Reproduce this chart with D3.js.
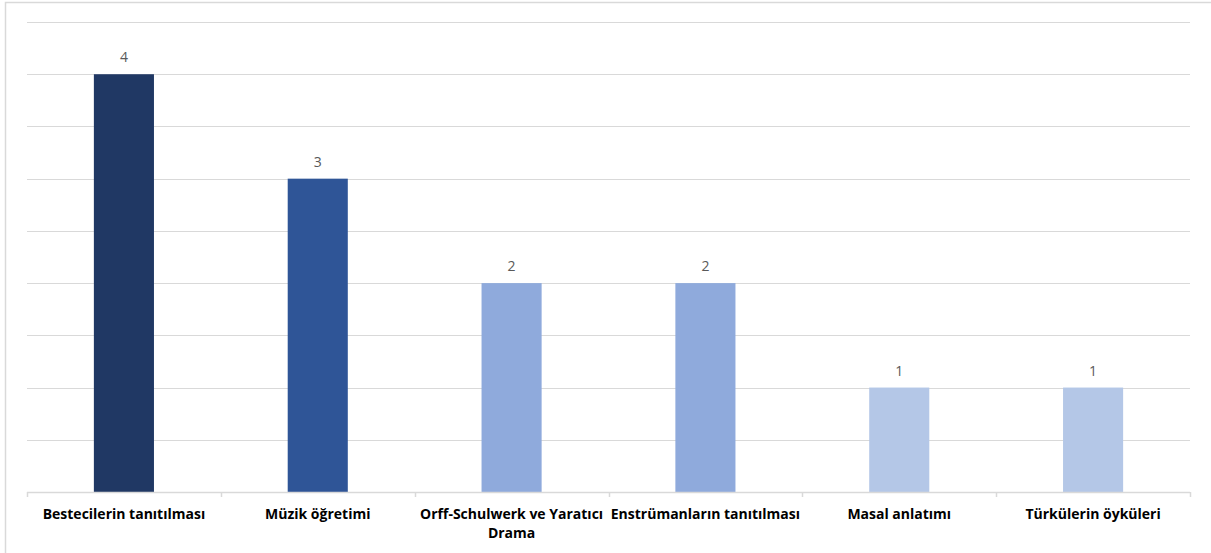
<!DOCTYPE html>
<html>
<head>
<meta charset="utf-8">
<script src="https://cdn.jsdelivr.net/npm/d3@7"></script>
<style>
  html, body { margin: 0; padding: 0; background: #fff; }
  svg { display: block; }
</style>
</head>
<body>
<svg id="chart" width="1211" height="553"></svg>
<script>
// Activity categories and how many times each was mentioned
const categories = [
  "Bestecilerin tanıtılması",
  "Müzik öğretimi",
  "Orff-Schulwerk ve Yaratıcı Drama",
  "Enstrümanların tanıtılması",
  "Masal anlatımı",
  "Türkülerin öyküleri"
];
const counts = [4, 3, 2, 2, 1, 1];
const barColors = ["#203864", "#2f5597", "#8faadc", "#8faadc", "#b4c7e7", "#b4c7e7"];
const gridValues = [0.5, 1, 1.5, 2, 2.5, 3, 3.5, 4, 4.5];

const svg = d3.select("#chart");
const plot = { left: 27, right: 1190, top: 22, bottom: 492 };

// outer frame
svg.append("rect")
  .attr("x", 5.5).attr("y", 2.5)
  .attr("width", 1230).attr("height", 570)
  .attr("fill", "none").attr("stroke", "#d9d9d9").attr("stroke-width", 1.5);

const x = d3.scaleBand()
  .domain(categories)
  .range([plot.left, plot.right])
  .paddingInner(0.69)
  .paddingOuter(0.345);

const xCat = d3.scaleBand()
  .domain(categories)
  .range([plot.left, plot.right]);

const y = d3.scaleLinear().domain([0, 4.5]).range([plot.bottom, plot.top]);

// horizontal gridlines
svg.append("g")
  .selectAll("line")
  .data(gridValues)
  .join("line")
  .attr("x1", plot.left).attr("x2", plot.right)
  .attr("y1", d => Math.round(y(d)) + 0.5)
  .attr("y2", d => Math.round(y(d)) + 0.5)
  .attr("stroke", "#d9d9d9").attr("stroke-width", 1);

// bars
svg.append("g")
  .selectAll("rect")
  .data(categories)
  .join("rect")
  .attr("x", d => x(d))
  .attr("width", x.bandwidth())
  .attr("y", (d, i) => y(counts[i]))
  .attr("height", (d, i) => y(0) - y(counts[i]))
  .attr("fill", (d, i) => barColors[i]);

// value labels
svg.append("g")
  .selectAll("text")
  .data(categories)
  .join("text")
  .attr("x", d => x(d) + x.bandwidth() / 2)
  .attr("y", (d, i) => y(counts[i]) - 12)
  .attr("text-anchor", "middle")
  .attr("font-family", "'Open Sans', sans-serif")
  .attr("font-size", 14)
  .attr("fill", "#595959")
  .text((d, i) => counts[i]);

// category axis
const axis = svg.append("g");
axis.append("line")
  .attr("x1", plot.left).attr("x2", plot.right)
  .attr("y1", plot.bottom + 0.5).attr("y2", plot.bottom + 0.5)
  .attr("stroke", "#d9d9d9").attr("stroke-width", 1.5);

const tickPos = categories.map(c => xCat(c)).concat([plot.right]);
axis.selectAll("line.tick")
  .data(tickPos)
  .join("line")
  .attr("class", "tick")
  .attr("x1", d => Math.round(d) + 0.5).attr("x2", d => Math.round(d) + 0.5)
  .attr("y1", plot.bottom).attr("y2", plot.bottom + 5)
  .attr("stroke", "#d9d9d9").attr("stroke-width", 1.5);

const labels = axis.selectAll("text.cat")
  .data(categories)
  .join("text")
  .attr("class", "cat")
  .attr("x", d => xCat(d) + xCat.bandwidth() / 2)
  .attr("y", 519)
  .attr("text-anchor", "middle")
  .attr("font-family", "'Open Sans', sans-serif")
  .attr("font-weight", "bold")
  .attr("font-size", 14)
  .attr("fill", "#000");

// wrap category names to the band width
labels.each(function(d) {
  const el = d3.select(this);
  const words = d.split(" ");
  const maxW = xCat.bandwidth() - 2;
  let line = [];
  let tspan = el.append("tspan").attr("x", el.attr("x")).attr("dy", 0);
  words.forEach(w => {
    line.push(w);
    tspan.text(line.join(" "));
    if (tspan.node().getComputedTextLength() > maxW && line.length > 1) {
      line.pop();
      tspan.text(line.join(" "));
      line = [w];
      tspan = el.append("tspan").attr("x", el.attr("x")).attr("dy", 19).text(w);
    }
  });
});
</script>
</body>
</html>
